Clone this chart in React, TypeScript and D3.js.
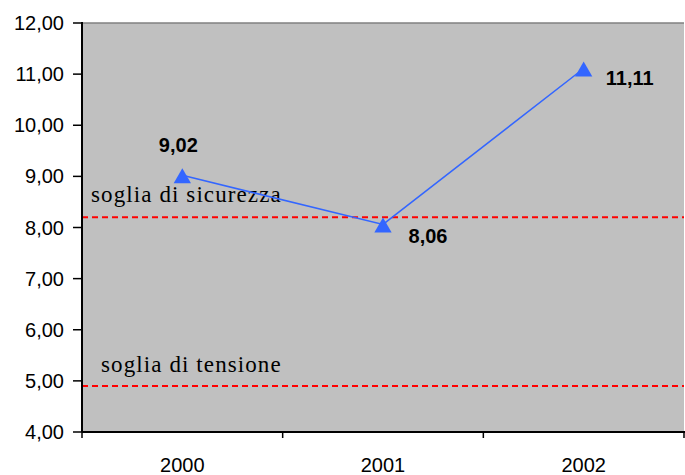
import React from 'react';
import * as d3 from 'd3';

const years = ['2000', '2001', '2002'];
const values = [9.02, 8.06, 11.11];
const yTicks = [4, 5, 6, 7, 8, 9, 10, 11, 12];
const thresholds = [
  { label: 'soglia di sicurezza', value: 8.2 },
  { label: 'soglia di tensione', value: 4.9 },
];

const fmt = (v: number) => v.toFixed(2).replace('.', ',');

const App = () => {
  const width = 685;
  const height = 475;
  const left = 82;
  const right = 684;
  const top = 23;
  const bottom = 432;

  const x = d3.scaleBand().domain(years).range([left, right]);
  const y = d3.scaleLinear().domain([4, 12]).range([bottom, top]);
  const cx = (d: string) => (x(d) ?? 0) + x.bandwidth() / 2;

  const line = d3.line<number>()
    .x((_, i) => cx(years[i]))
    .y(d => y(d));

  const tri = d3.symbol().type(d3.symbolTriangle).size(130)();

  // label offsets relative to each point
  const labelPos = [
    { dx: -4, dy: -30 },
    { dx: 45, dy: 12 },
    { dx: 46, dy: 9 },
  ];

  const xTickPos = [left, ...years.map(d => (x(d) ?? 0) + x.bandwidth())];
  const serif = "'Liberation Serif', 'Times New Roman', serif";
  const sans = "'Liberation Sans', Arial, sans-serif";

  return (
    <svg width={width} height={height} style={{ position: 'absolute', left: 0, top: 0 }}>
      <rect x={left} y={top} width={right - left} height={bottom - top} fill="#c0c0c0" />
      <line x1={left} x2={right} y1={top} y2={top} stroke="#808080" strokeWidth={1.5} />

      {thresholds.map(t => (
        <line key={t.label} x1={left} x2={right} y1={y(t.value)} y2={y(t.value)}
          stroke="#ff0000" strokeWidth={2} strokeDasharray="6,4" />
      ))}
      <text x={91} y={y(thresholds[0].value) - 15} fontFamily={serif} fontSize={23} letterSpacing={1.1} fill="#000">
        {thresholds[0].label}
      </text>
      <text x={101} y={y(thresholds[1].value) - 14} fontFamily={serif} fontSize={23} letterSpacing={1.1} fill="#000">
        {thresholds[1].label}
      </text>

      <path d={line(values) ?? ''} fill="none" stroke="#3366ff" strokeWidth={1.5} />
      {values.map((v, i) => (
        <path key={i} d={tri ?? ''} transform={`translate(${cx(years[i])},${y(v) + 3})`} fill="#3366ff" />
      ))}
      {values.map((v, i) => (
        <text key={'l' + i} x={cx(years[i]) + labelPos[i].dx} y={y(v) + labelPos[i].dy}
          textAnchor="middle" dominantBaseline="central"
          fontFamily={sans} fontWeight="bold" fontSize={20} fill="#000">
          {fmt(v)}
        </text>
      ))}

      {/* y axis */}
      <line x1={left} x2={left} y1={top - 1} y2={bottom} stroke="#000" strokeWidth={2} />
      {yTicks.map(t => (
        <g key={t}>
          <line x1={left - 9} x2={left} y1={y(t)} y2={y(t)} stroke="#000" strokeWidth={1.5} />
          <text x={64} y={y(t)} textAnchor="end" dominantBaseline="central"
            fontFamily={sans} fontSize={20} fill="#000">
            {fmt(t)}
          </text>
        </g>
      ))}

      {/* x axis */}
      <line x1={left} x2={right + 1} y1={bottom} y2={bottom} stroke="#000" strokeWidth={2} />
      {xTickPos.map((p, i) => (
        <line key={i} x1={p} x2={p} y1={bottom} y2={bottom + 6} stroke="#000" strokeWidth={1.5} />
      ))}
      {years.map(d => (
        <text key={d} x={cx(d)} y={465} textAnchor="middle" dominantBaseline="central"
          fontFamily={sans} fontSize={20} fill="#000">
          {d}
        </text>
      ))}
    </svg>
  );
};

export default App;
